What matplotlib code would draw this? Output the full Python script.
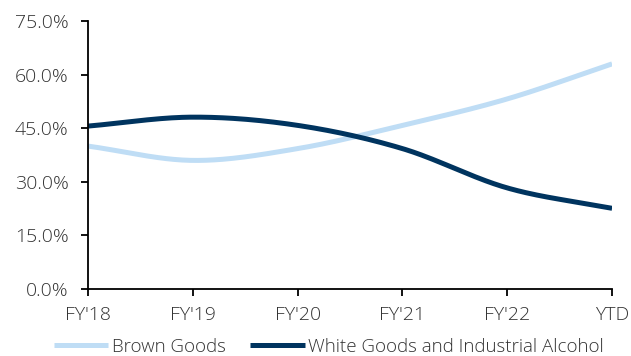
import matplotlib
matplotlib.use("Agg")
import matplotlib.pyplot as plt
import numpy as np
from matplotlib.ticker import FuncFormatter

# share of sales by segment
periods = ["FY'18", "FY'19", "FY'20", "FY'21", "FY'22", "YTD"]
brown_goods = [40.0, 36.0, 39.3, 45.8, 53.2, 63.0]
white_goods = [45.6, 48.1, 45.8, 39.3, 28.3, 22.6]

LIGHT = "#BFDDF5"
DARK = "#00345F"
TXT = "#333333"


def smooth(y, n=40):
    # catmull-rom through the points, like a smoothed office line
    y = np.asarray(y, float)
    x = np.arange(len(y), dtype=float)
    px = np.concatenate([[2 * x[0] - x[1]], x, [2 * x[-1] - x[-2]]])
    py = np.concatenate([[2 * y[0] - y[1]], y, [2 * y[-1] - y[-2]]])
    xs, ys = [], []
    for i in range(1, len(px) - 2):
        t = np.linspace(0, 1, n)
        for p, out in ((px, xs), (py, ys)):
            p0, p1, p2, p3 = p[i - 1], p[i], p[i + 1], p[i + 2]
            b1 = p1 + (p2 - p0) / 6
            b2 = p2 - (p3 - p1) / 6
            out.append((1 - t) ** 3 * p1 + 3 * (1 - t) ** 2 * t * b1
                       + 3 * (1 - t) * t ** 2 * b2 + t ** 3 * p2)
    return np.concatenate(xs), np.concatenate(ys)


plt.rcParams["font.family"] = ["Open Sans", "DejaVu Sans"]
plt.rcParams["font.weight"] = "light"

fig = plt.figure(figsize=(6.31, 3.56), dpi=100)
ax = fig.add_axes([0.1395, 0.188, 0.8305, 0.753])

bx, by = smooth(brown_goods)
wx, wy = smooth(white_goods)
ax.plot(bx, by, color=LIGHT, lw=3.6, solid_capstyle="butt", label="Brown Goods")
ax.plot(wx, wy, color=DARK, lw=3.6, solid_capstyle="butt",
        label="White Goods and Industrial Alcohol")

ax.set_xlim(0, len(periods) - 1)
ax.set_ylim(0, 75)
ax.set_xticks(range(len(periods)))
ax.set_xticklabels(periods)
ax.set_yticks(np.arange(0, 76, 15))
ax.yaxis.set_major_formatter(FuncFormatter(lambda v, _: f"{v:.1f}%"))

for s in ["top", "right"]:
    ax.spines[s].set_visible(False)
for s in ["left", "bottom"]:
    ax.spines[s].set_linewidth(1.3)
    ax.spines[s].set_color("black")
ax.tick_params(axis="both", direction="out", length=5, width=1.3,
               labelsize=14, labelcolor=TXT)
ax.tick_params(axis="x", pad=7)
ax.tick_params(axis="y", pad=9)

ax.legend(loc="center", bbox_to_anchor=(0.46, -0.215), ncol=2, frameon=False,
          fontsize=13.5, labelcolor=TXT, handlelength=2.9, handletextpad=0.2,
          columnspacing=1.3, borderaxespad=0, borderpad=0)

fig.savefig("out.png", dpi=100)
